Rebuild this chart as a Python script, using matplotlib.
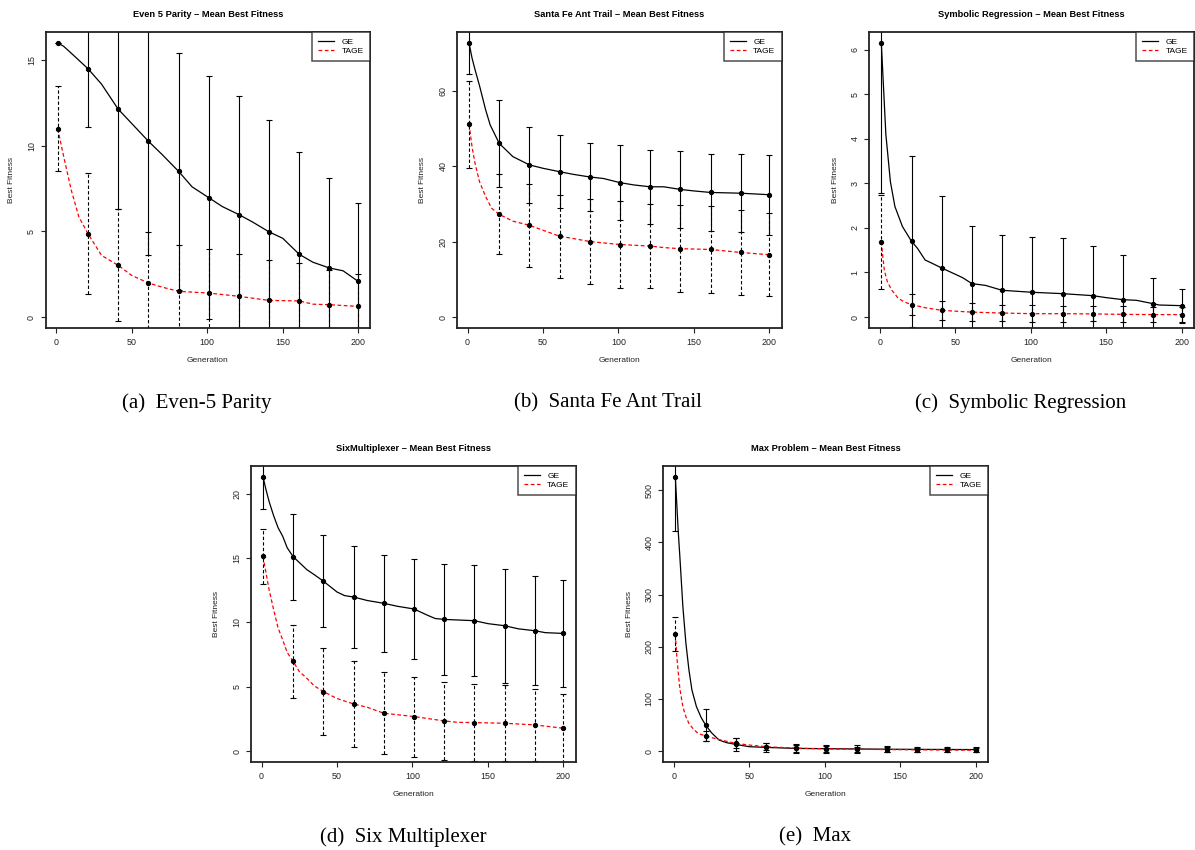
import matplotlib
matplotlib.use('Agg')
import matplotlib.pyplot as plt

plt.rcParams['font.family'] = ['Liberation Sans', 'DejaVu Sans']

# generations where mean / sd are marked
gens = [1, 21, 41, 61, 81, 101, 121, 141, 161, 181, 200]

# Even 5 Parity
par_ge = [16.0, 14.5, 12.14, 10.27, 8.51, 6.97, 5.98, 4.97, 3.66, 2.86, 2.08]
par_ge_sd = [0.0, 3.4, 5.85, 6.63, 6.92, 7.1, 6.94, 6.56, 5.98, 5.28, 4.58]
par_tage = [11.0, 4.87, 3.02, 1.99, 1.5, 1.4, 1.21, 0.97, 0.94, 0.72, 0.62]
par_tage_sd = [2.5, 3.55, 3.27, 2.98, 2.69, 2.6, 2.49, 2.34, 2.24, 2.01, 1.91]
par_ge_x = [5, 10, 30, 50, 70, 90, 110, 130, 150, 170, 190]
par_ge_y = [15.8, 15.4, 13.6, 11.3, 9.5, 7.6, 6.45, 5.55, 4.6, 3.2, 2.7]
par_tage_x = [5, 10, 15, 30, 50, 70, 170]
par_tage_y = [9.35, 7.4, 5.85, 3.6, 2.43, 1.75, 0.75]

# Santa Fe Ant Trail
ant_ge = [72.6, 46.0, 40.3, 38.5, 37.1, 35.6, 34.5, 33.8, 33.0, 32.8, 32.4]
ant_ge_sd = [8.2, 11.6, 10.0, 9.6, 9.0, 10.0, 9.8, 10.2, 10.2, 10.3, 10.6]
ant_tage = [51.1, 27.2, 24.3, 21.4, 20.0, 19.2, 18.8, 18.1, 17.9, 17.1, 16.5]
ant_tage_sd = [11.5, 10.6, 11.0, 11.0, 11.3, 11.5, 11.2, 11.5, 11.5, 11.2, 11.0]
ant_ge_x = [3, 5, 8, 12, 15, 30, 50, 70, 90, 110, 130, 150]
ant_ge_y = [68.6, 65.5, 61.2, 54.9, 50.9, 42.5, 39.4, 37.8, 36.7, 35.0, 34.5, 33.4]
ant_tage_x = [3, 5, 8, 12, 16, 30, 50, 70, 130]
ant_tage_y = [45.1, 40.7, 35.8, 31.9, 28.8, 25.4, 23.0, 20.8, 18.4]

# Symbolic Regression
sym_ge = [6.15, 1.7, 1.1, 0.75, 0.6, 0.555, 0.525, 0.48, 0.39, 0.3, 0.255]
sym_ge_sd = [3.37, 1.92, 1.62, 1.3, 1.25, 1.245, 1.245, 1.12, 1.01, 0.585, 0.385]
sym_tage = [1.69, 0.28, 0.15, 0.11, 0.09, 0.075, 0.075, 0.07, 0.06, 0.055, 0.055]
sym_tage_sd = [1.05, 0.245, 0.21, 0.2, 0.19, 0.185, 0.18, 0.17, 0.18, 0.17, 0.17]
sym_ge_x = [4, 5, 7, 10, 15, 25, 30, 35, 50, 55, 70, 150, 170, 185]
sym_ge_y = [4.1, 3.75, 3.04, 2.48, 2.03, 1.54, 1.28, 1.2, 0.96, 0.88, 0.71, 0.435, 0.375, 0.27]
sym_tage_x = [2, 3, 5, 8, 12, 16, 30]
sym_tage_y = [1.35, 1.05, 0.79, 0.6, 0.43, 0.34, 0.21]

# Six Multiplexer
mux_ge = [21.3, 15.1, 13.2, 11.97, 11.48, 11.04, 10.23, 10.13, 9.74, 9.35, 9.14]
mux_ge_sd = [2.5, 3.35, 3.57, 3.95, 3.75, 3.92, 4.33, 4.3, 4.43, 4.22, 4.18]
mux_tage = [15.12, 6.96, 4.62, 3.66, 2.94, 2.68, 2.34, 2.21, 2.16, 2.03, 1.77]
mux_tage_sd = [2.14, 2.83, 3.4, 3.33, 3.18, 3.11, 3.0, 3.0, 2.97, 2.78, 2.67]
mux_ge_x = [3, 5, 8, 11, 14, 17, 30, 35, 50, 55, 70, 90, 110, 115, 150, 170, 188]
mux_ge_y = [20.3, 19.4, 18.3, 17.35, 16.7, 15.8, 14.1, 13.7, 12.36, 12.08, 11.7, 11.25,
            10.55, 10.3, 9.9, 9.5, 9.2]
mux_tage_x = [3, 5, 8, 11, 14, 17, 25, 30, 35, 50, 70, 130]
mux_tage_y = [13.84, 12.55, 11.0, 9.56, 8.65, 7.66, 6.18, 5.66, 5.06, 4.08, 3.4, 2.23]

# Max Problem
max_ge = [525.6, 50, 12.8, 7, 5, 4.5, 4, 3.5, 3.2, 3, 2.8]
max_ge_sd = [104, 30, 12, 9, 9, 7.5, 7, 5.5, 5.3, 5, 4.2]
max_tage = [224, 28.8, 14.7, 8.3, 5.5, 4.2, 3.5, 2.8, 2.3, 2.0, 1.6]
max_tage_sd = [33, 8.8, 9.5, 6.7, 6.5, 5.8, 5, 4.2, 3.7, 3.5, 3.4]
max_ge_x = [3, 4, 6, 8, 10, 12, 15, 18, 25, 30, 35, 50]
max_ge_y = [418, 373, 277, 207, 156, 117, 85, 65, 35, 21, 16, 8.3]
max_tage_x = [2, 3, 4, 6, 8, 10, 13, 16, 30, 50]
max_tage_y = [181, 149, 120, 85, 66, 53, 42, 34, 22, 11.5]

titles = ['Even 5 Parity', 'Santa Fe Ant Trail', 'Symbolic Regression',
          'SixMultiplexer', 'Max Problem']
captions = ['(a)  Even-5 Parity', '(b)  Santa Fe Ant Trail', '(c)  Symbolic Regression',
            '(d)  Six Multiplexer', '(e)  Max']
ytick_step = [5, 20, 1, 5, 100]

panels = [
    (par_ge, par_ge_sd, par_tage, par_tage_sd, par_ge_x, par_ge_y, par_tage_x, par_tage_y),
    (ant_ge, ant_ge_sd, ant_tage, ant_tage_sd, ant_ge_x, ant_ge_y, ant_tage_x, ant_tage_y),
    (sym_ge, sym_ge_sd, sym_tage, sym_tage_sd, sym_ge_x, sym_ge_y, sym_tage_x, sym_tage_y),
    (mux_ge, mux_ge_sd, mux_tage, mux_tage_sd, mux_ge_x, mux_ge_y, mux_tage_x, mux_tage_y),
    (max_ge, max_ge_sd, max_tage, max_tage_sd, max_ge_x, max_ge_y, max_tage_x, max_tage_y),
]

W, H = 1195, 850
# axes boxes in pixels: left, top
boxes = [(45.7, 32), (457, 32), (869.3, 32), (251, 466), (663.3, 466)]
bw, bh = 324.5, 296
cap_pos = [(197, 403), (608, 403), (1021, 403), (403, 837), (815, 837)]


def curve(xs, ys, ex, ey):
    pts = sorted(list(zip(xs, ys)) + list(zip(ex, ey)))
    return [p[0] for p in pts], [p[1] for p in pts]


fig = plt.figure(figsize=(W / 100, H / 100), dpi=100)

for i, (ge, ge_sd, tg, tg_sd, gx, gy, tx, ty) in enumerate(panels):
    l, t = boxes[i]
    ax = fig.add_axes([l / W, 1 - (t + bh) / H, bw / W, bh / H])

    cx, cy = curve(gens, ge, gx, gy)
    ax.plot(cx, cy, color='black', lw=0.9, label='GE')
    cx, cy = curve(gens, tg, tx, ty)
    ax.plot(cx, cy, color='red', lw=0.9, ls=(0, (3, 2)), label='TAGE')

    eb = ax.errorbar(gens, ge, yerr=ge_sd, fmt='o', color='black', ms=2.8,
                     elinewidth=0.8, capsize=2.0, capthick=0.8)
    eb = ax.errorbar(gens, tg, yerr=tg_sd, fmt='o', color='black', ms=2.8,
                     elinewidth=0.8, capsize=2.0, capthick=0.8)
    eb[2][0].set_linestyle((0, (3, 2)))

    # R style 4% padding
    hi = max(ge)
    ax.set_xlim(1 - 0.04 * 199, 200 + 0.04 * 199)
    ax.set_ylim(-0.04 * hi, hi * 1.04)
    ax.set_xticks([0, 50, 100, 150, 200])
    step = ytick_step[i]
    ax.set_yticks([k * step for k in range(int(hi // step) + 1)])
    ax.tick_params(labelsize=6.4, length=3.5, width=0.8, pad=3.5, color='#222222',
                   labelcolor='#222222')
    for lab in ax.get_yticklabels():
        lab.set_rotation(90)
        lab.set_va('center')
    for s in ax.spines.values():
        s.set_linewidth(1.3)
        s.set_color('#222222')

    ax.set_title(titles[i] + ' \u2013 Mean Best Fitness', fontsize=6.7,
                 fontweight='bold', pad=11)
    ax.set_xlabel('Generation', fontsize=6.0, color='#222222')
    ax.set_ylabel('Best Fitness', fontsize=6.0, color='#222222')
    ax.xaxis.set_label_coords(0.5, -0.098)
    ax.yaxis.set_label_coords(-0.094, 0.5)

    leg = ax.legend(loc='upper right', fontsize=6.0, frameon=True, fancybox=False,
                    borderaxespad=0, handlelength=1.9, handletextpad=0.9,
                    labelspacing=0.15, borderpad=0.75)
    leg.get_frame().set_edgecolor('#222222')
    leg.get_frame().set_linewidth(1.1)

    fig.text(cap_pos[i][0] / W, 1 - cap_pos[i][1] / H, captions[i],
             family='Liberation Serif', fontsize=15, ha='center', va='center')

fig.savefig('out.png', dpi=100)
